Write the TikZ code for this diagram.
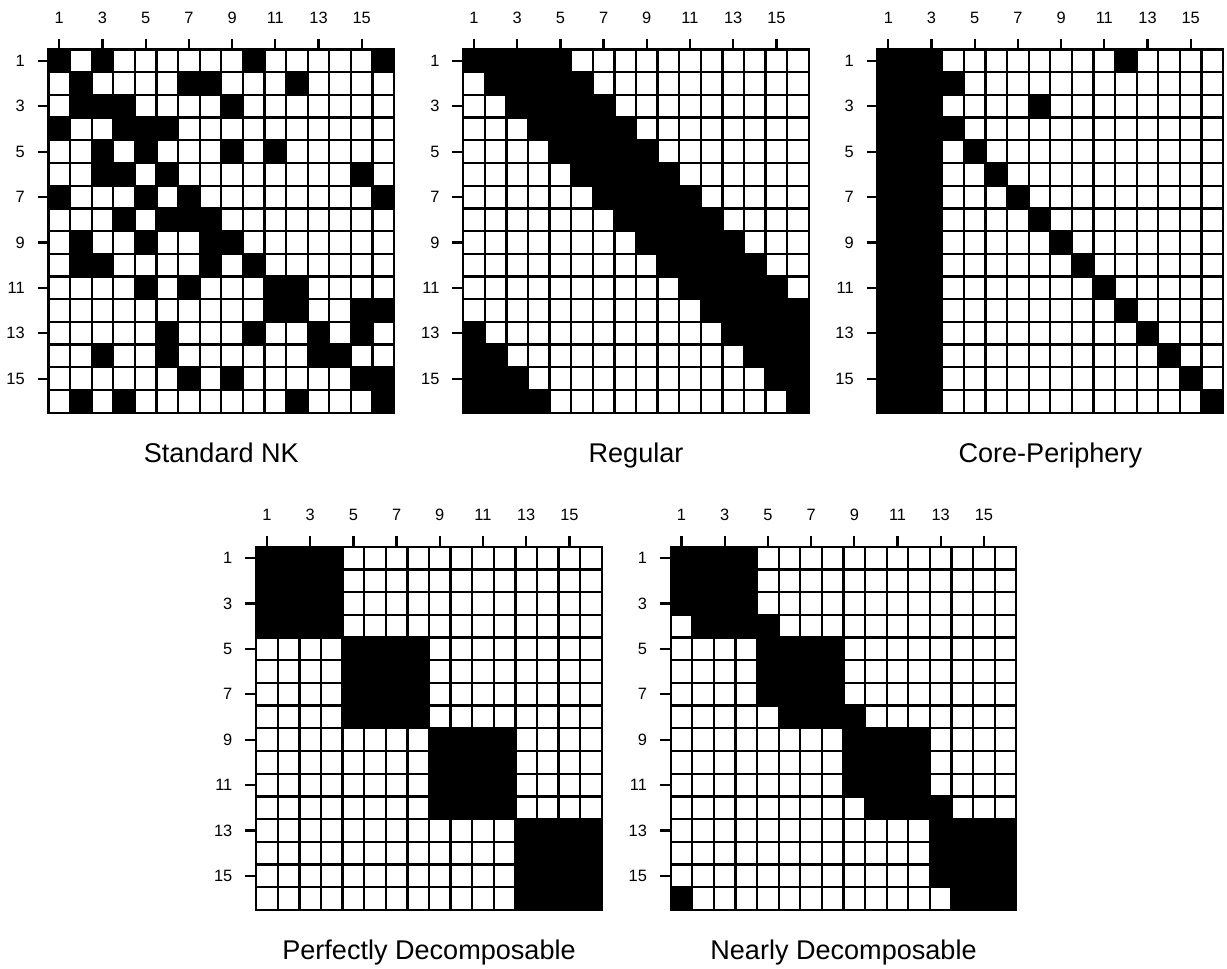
\documentclass[tikz,border=0pt]{standalone}
\usepackage{fontspec}
\setmainfont{Liberation Sans}

% Cell size in pixels
\def\cw{21.6}
\def\ch{22.7}

% One black cell at row #1, column #2
\newcommand{\blackcell}[2]{\fill ({(#2-1)*\cw},{(#1-1)*\ch}) rectangle ++(\cw,\ch);}

% Grid lines, ticks and tick labels of a 16x16 matrix (#1 = name prefix)
\newcommand{\gridframe}[1]{%
  \foreach \i in {1,...,15}{
    \draw ({\i*\cw},0) -- ({\i*\cw},{16*\ch});
    \draw (0,{\i*\ch}) -- ({16*\cw},{\i*\ch});
  }
  \draw (0,0) rectangle ({16*\cw},{16*\ch});
  \foreach \i in {1,3,...,15}{
    \draw ({(\i-0.5)*\cw},0) -- ++(0,-10.7);
    \node[ticklab, anchor=base] (#1-c\i) at ({(\i-0.5)*\cw},-26) {\i};
    \draw (0,{(\i-0.5)*\ch}) -- ++(-11,0);
    \node[ticklab, anchor=east] (#1-r\i) at (-22.7,{(\i-0.5)*\ch}) {\i};
  }
}

\begin{document}
\begin{tikzpicture}[x=0.75pt, y=-0.75pt, line width=1.7pt,
    ticklab/.style={font=\fontsize{12.3}{14}\selectfont, inner sep=0pt},
    title/.style={font=\fontsize{20.3}{24}\selectfont, anchor=base, inner sep=0pt}
]

\fill[white] (0,0) rectangle (1227,968);
\useasboundingbox (0,0) rectangle (1227,968);

% Top left corners of the matrices
\coordinate (nk) at (48.5,49.5);
\coordinate (reg) at (463.2,49.5);
\coordinate (cp) at (877.5,49.5);
\coordinate (pd) at (256.2,546.7);
\coordinate (nd) at (670.7,546.7);

% --- Standard NK ---
\begin{scope}[shift={(nk)}]
  \foreach \r/\cols in {1/{1,3,10,16}, 2/{2,7,8,12}, 3/{2,3,4,9}, 4/{1,4,5,6},
      5/{3,5,9,11}, 6/{3,4,6,15}, 7/{1,5,7,16}, 8/{4,6,7,8},
      9/{2,5,8,9}, 10/{2,3,8,10}, 11/{5,7,11,12}, 12/{11,12,15,16},
      13/{6,10,13,15}, 14/{3,6,13,14}, 15/{7,9,15,16}, 16/{2,4,12,16}}{
    \foreach \c in \cols {\blackcell{\r}{\c}}
  }
  \gridframe{nk}
\end{scope}

% --- Regular ---
\begin{scope}[shift={(reg)}]
  \foreach \r in {1,...,16}{
    \foreach \k in {0,...,4}{
      \pgfmathtruncatemacro{\c}{mod(\r-1+\k,16)+1}
      \blackcell{\r}{\c}
    }
  }
  \gridframe{reg}
\end{scope}

% --- Core-Periphery ---
\begin{scope}[shift={(cp)}]
  \foreach \r in {1,...,16}{
    \fill (0,{(\r-1)*\ch}) rectangle ++({3*\cw},\ch);
    \blackcell{\r}{\r}
  }
  \blackcell{1}{12}
  \blackcell{2}{4}
  \blackcell{3}{8}
  \gridframe{cp}
\end{scope}

% --- Perfectly Decomposable ---
\begin{scope}[shift={(pd)}]
  \foreach \b in {0,...,3}
    \fill ({4*\b*\cw},{4*\b*\ch}) rectangle ++({4*\cw},{4*\ch});
  \gridframe{pd}
\end{scope}

% --- Nearly Decomposable ---
\begin{scope}[shift={(nd)}]
  \foreach \r/\s in {1/1, 2/1, 3/1, 4/2, 5/5, 6/5, 7/5, 8/6,
      9/9, 10/9, 11/9, 12/10, 13/13, 14/13, 15/13, 16/14}{
    \foreach \k in {0,...,3}{
      \pgfmathtruncatemacro{\c}{mod(\s-1+\k,16)+1}
      \blackcell{\r}{\c}
    }
  }
  \gridframe{nd}
\end{scope}

% --- Titles ---
\node[title] (nk-title) at (221.3,462.7) {Standard NK};
\node[title] (reg-title) at (636,462.7) {Regular};
\node[title] (cp-title) at (1050.3,462.7) {Core-Periphery};
\node[title] (pd-title) at (429,959.5) {Perfectly Decomposable};
\node[title] (nd-title) at (843.5,959.5) {Nearly Decomposable};

\end{tikzpicture}
\end{document}
